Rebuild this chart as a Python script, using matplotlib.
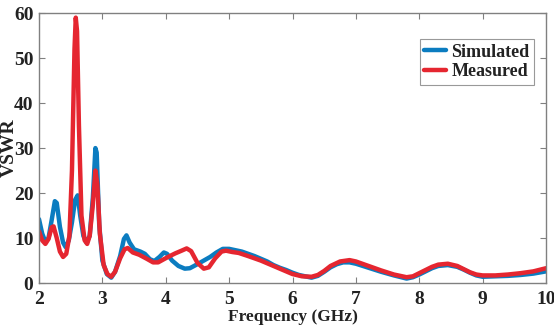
import matplotlib.pyplot as plt

# simulated VSWR
sim_freq = [2.0, 2.05, 2.1, 2.15, 2.2, 2.25, 2.28, 2.33, 2.38, 2.42, 2.47, 2.52, 2.57, 2.61,
            2.65, 2.7, 2.75, 2.8, 2.85, 2.89, 2.91, 2.95, 3.0, 3.07, 3.14, 3.2, 3.28, 3.34,
            3.38, 3.43, 3.5, 3.6, 3.67, 3.75, 3.82, 3.9, 3.97, 4.02, 4.1, 4.2, 4.3, 4.38,
            4.5, 4.6, 4.7, 4.8, 4.9, 5.0, 5.1, 5.2, 5.3, 5.4, 5.5, 5.6, 5.7, 5.8, 5.9, 6.0,
            6.1, 6.2, 6.3, 6.4, 6.5, 6.6, 6.7, 6.8, 6.9, 7.0, 7.2, 7.4, 7.6, 7.8, 7.9, 8.0,
            8.1, 8.2, 8.3, 8.45, 8.6, 8.7, 8.8, 8.9, 9.0, 9.2, 9.4, 9.6, 9.8, 10.0]
sim_vswr = [14.2, 11.0, 9.2, 10.0, 14.0, 18.2, 17.8, 12.5, 9.0, 8.0, 9.5, 13.5, 18.5, 19.5,
            15.0, 10.5, 9.0, 10.5, 19.0, 30.0, 29.0, 13.0, 5.0, 2.0, 1.2, 2.5, 6.0, 9.8,
            10.6, 9.0, 7.5, 7.0, 6.5, 5.3, 4.9, 5.8, 6.8, 6.5, 5.0, 3.8, 3.2, 3.3,
            4.2, 5.0, 5.8, 6.8, 7.6, 7.6, 7.3, 7.0, 6.5, 6.0, 5.4, 4.8, 4.0, 3.4, 2.9, 2.3,
            1.8, 1.5, 1.2, 1.6, 2.5, 3.5, 4.2, 4.6, 4.6, 4.3, 3.4, 2.5, 1.7, 1.0, 1.3, 1.9,
            2.6, 3.3, 3.8, 4.0, 3.6, 3.0, 2.3, 1.7, 1.4, 1.5, 1.6, 1.8, 2.1, 2.6]

# measured VSWR
meas_freq = [2.0, 2.05, 2.1, 2.15, 2.2, 2.23, 2.28, 2.33, 2.38, 2.43, 2.48, 2.52, 2.56, 2.58,
             2.6, 2.63, 2.67, 2.72, 2.76, 2.8, 2.85, 2.89, 2.92, 2.96, 3.02, 3.08, 3.14, 3.2,
             3.28, 3.35, 3.4, 3.48, 3.58, 3.7, 3.8, 3.88, 3.97, 4.05, 4.15, 4.25, 4.33, 4.4,
             4.5, 4.6, 4.68, 4.78, 4.88, 4.95, 5.05, 5.15, 5.3, 5.5, 5.7, 5.85, 6.0, 6.15,
             6.3, 6.4, 6.5, 6.6, 6.75, 6.9, 7.0, 7.2, 7.4, 7.6, 7.8, 7.9, 8.0, 8.1, 8.2, 8.3,
             8.45, 8.6, 8.7, 8.8, 8.9, 9.0, 9.2, 9.4, 9.6, 9.8, 10.0]
meas_vswr = [11.5, 9.5, 8.7, 9.8, 12.4, 12.6, 10.0, 7.0, 5.8, 6.5, 10.5, 25.0, 52.0, 59.0,
             56.0, 35.0, 15.0, 9.5, 8.7, 10.5, 17.5, 25.0, 22.0, 11.0, 4.0, 2.0, 1.4, 2.5,
             5.5, 7.5, 7.8, 6.8, 6.3, 5.4, 4.6, 4.6, 5.3, 5.9, 6.6, 7.2, 7.7, 7.1,
             4.5, 3.2, 3.5, 5.5, 7.0, 7.2, 6.9, 6.7, 6.0, 5.0, 3.8, 2.9, 2.0, 1.5,
             1.4, 1.8, 2.7, 3.8, 4.8, 5.1, 4.8, 3.8, 2.8, 1.9, 1.3, 1.5, 2.2, 2.9, 3.6, 4.1,
             4.3, 3.8, 3.1, 2.4, 1.9, 1.7, 1.7, 1.9, 2.2, 2.6, 3.3]

x_ticks = [2, 3, 4, 5, 6, 7, 8, 9, 10]
y_ticks = [0, 10, 20, 30, 40, 50, 60]

plt.rcParams["font.family"] = "Liberation Serif"
plt.rcParams["font.weight"] = "bold"

fig = plt.figure(figsize=(5.54, 3.28), dpi=100)
ax = fig.add_axes([0.0704, 0.137, 0.9152, 0.823])

ax.plot(sim_freq, sim_vswr, color="#0b7cc0", linewidth=3.2, label="Simulated", solid_capstyle="round")
ax.plot(meas_freq, meas_vswr, color="#e52630", linewidth=3.2, label="Measured", solid_capstyle="round")

ax.set_xlim(2, 10)
ax.set_ylim(0, 60)
ax.set_xticks(x_ticks)
ax.set_yticks(y_ticks)
ax.tick_params(direction="in", top=True, right=True, length=4, width=0.8,
               color="#808080", labelsize=14, labelcolor="#222222")
ax.tick_params(axis="x", pad=6)
ax.tick_params(axis="y", pad=4)
for s in ax.spines.values():
    s.set_color("#808080")
    s.set_linewidth(1.0)

ax.set_xlabel("Frequency (GHz)", fontsize=12.5, fontweight="bold", color="#222222")
ax.xaxis.set_label_coords(0.5, -0.097)
ax.set_ylabel("VSWR", fontsize=14, fontweight="bold", color="#222222")
ax.yaxis.set_label_coords(-0.041, 0.5)

leg = ax.legend(loc="upper right", bbox_to_anchor=(0.964, 0.881), bbox_transform=fig.transFigure,
                fontsize=13, frameon=True, fancybox=False, edgecolor="#808080",
                handlelength=1.2, handletextpad=0.3, borderpad=0.25, labelspacing=0.15,
                borderaxespad=0)
leg.get_frame().set_linewidth(0.8)
for t in leg.get_texts():
    t.set_fontweight("bold")
    t.set_color("#222222")

fig.savefig("out.png", dpi=100)
